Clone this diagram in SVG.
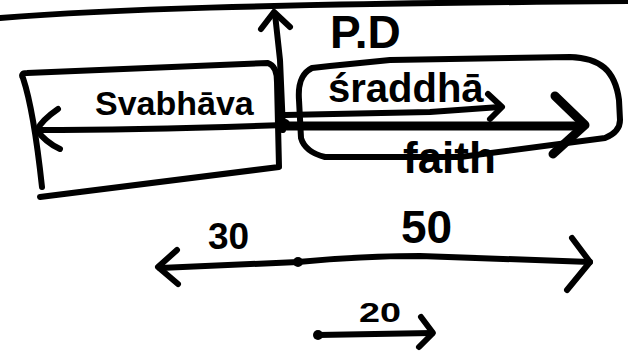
<svg xmlns="http://www.w3.org/2000/svg" width="628" height="352" viewBox="0 0 628 352">
  <style>
    .ink { fill: none; stroke: #000; stroke-width: 6; stroke-linecap: round; stroke-linejoin: round; }
    .heavy { fill: none; stroke: #000; stroke-width: 9; stroke-linecap: round; stroke-linejoin: round; }
    .dot { fill: #000; }
    .hand { font-family: "Liberation Sans", "DejaVu Sans", sans-serif; font-weight: bold; fill: #000; }
  </style>
  <rect width="628" height="352" fill="#fff"/>

  <!-- rule across the top -->
  <path class="ink" d="M0,18 C100,10 250,4 628,1"/>

  <!-- left box -->
  <g id="svabhava">
    <path class="ink" d="M42,187 C38,150 32,105 23,78 Q20,73 27,73 L268,63 Q277,66 277,82 L279,167 L40,197"/>
    <text class="hand" x="95" y="115" font-size="34">Svabhāva</text>
  </g>

  <!-- right rounded box -->
  <g id="shraddha">
    <path class="ink" d="M330,66 L312,68 C300,74 298,86 299,100 L301,138 Q305,152 325,157 L460,157 L605,138 Q620,132 620,120 L619,100 C615,70 600,58 570,57 L390,60 Z"/>
    <text class="hand" x="328" y="102" font-size="40">śraddhā</text>
    <text class="hand" x="403" y="173" font-size="44">faith</text>
  </g>

  <!-- label beside the vertical arrow -->
  <g id="pd">
    <text class="hand" x="330" y="48" font-size="46">P.D</text>
  </g>

  <!-- arrows -->
  <g id="connectors">
    <!-- vertical arrow -->
    <path class="ink" d="M283,130 L280,60 L275,14"/>
    <path class="ink" d="M261,29 L274,12 L290,27"/>
    <!-- leftward arrow -->
    <path class="ink" d="M285,125 C200,128 100,130 37,130"/>
    <path class="ink" d="M58,109 Q42,120 37,130 Q45,142 60,149"/>
    <!-- thin rightward arrow -->
    <path class="ink" d="M285,115 L430,112 L500,107"/>
    <path class="ink" d="M488,94 L502,107 L490,119"/>
    <!-- heavy rightward arrow -->
    <path class="heavy" d="M285,126 L583,126"/>
    <path class="heavy" stroke-width="11" d="M555,96 L585,125 L553,154"/>
    <circle class="dot" cx="285" cy="124" r="5"/>

    <!-- scale line -->
    <path class="ink" d="M160,268 C220,265 260,264 298,262 C340,258 390,256 420,256 L590,262"/>
    <path class="ink" d="M177,250 L158,267 L178,284"/>
    <path class="ink" d="M572,238 L590,262 L567,290"/>
    <circle class="dot" cx="298" cy="262" r="5"/>

    <!-- short arrow -->
    <path class="ink" d="M318,335 L432,333"/>
    <path class="ink" d="M421,317 L433,333 L419,347"/>
    <circle class="dot" cx="318" cy="335" r="5"/>
  </g>

  <!-- scale labels -->
  <g id="labels">
    <text class="hand" x="208" y="249" font-size="37">30</text>
    <text class="hand" x="401" y="243" font-size="46">50</text>
    <text class="hand" x="359" y="322" font-size="28" textLength="42" lengthAdjust="spacingAndGlyphs">20</text>
  </g>
</svg>
